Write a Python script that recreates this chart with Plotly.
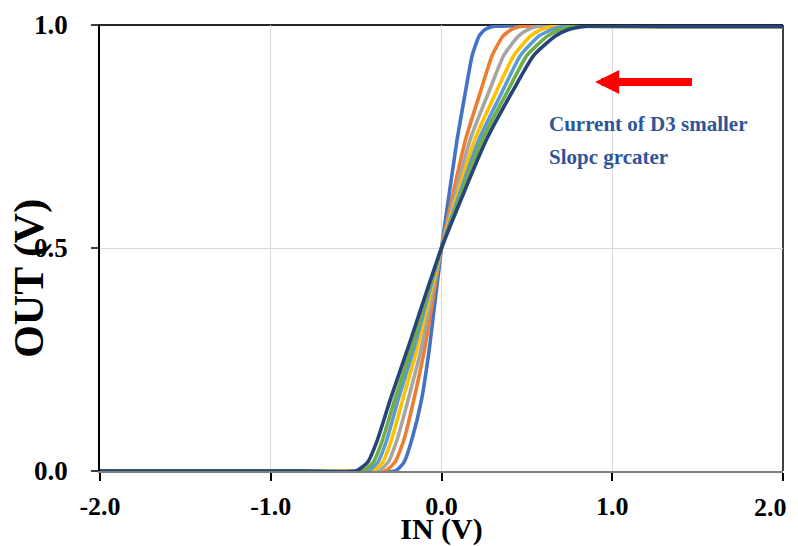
import plotly.graph_objects as go

# Output level (V) at which each curve's input (V) was read
out_levels = [0.0, 0.0, 0.0, 0.0, 0.02, 0.07, 0.16, 0.272, 0.5, 0.742, 0.85, 0.932, 0.975, 0.99, 0.997, 0.997, 0.997]

# Input voltage (V) of each curve at those output levels
in_blue   = [-2.0, -1.0, -0.50, -0.27, -0.219, -0.174, -0.117, -0.072, 0.0, 0.091, 0.140, 0.180, 0.220, 0.255, 0.31, 1.0, 2.0]
in_orange = [-2.0, -1.0, -0.55, -0.33, -0.272, -0.220, -0.162, -0.100, 0.0, 0.140, 0.228, 0.297, 0.360, 0.410, 0.47, 1.0, 2.0]
in_gray   = [-2.0, -1.0, -0.60, -0.37, -0.312, -0.260, -0.195, -0.120, 0.0, 0.167, 0.277, 0.365, 0.450, 0.510, 0.57, 1.1, 2.0]
in_yellow = [-2.0, -1.0, -0.65, -0.40, -0.343, -0.293, -0.227, -0.145, 0.0, 0.194, 0.320, 0.424, 0.520, 0.585, 0.65, 1.2, 2.0]
in_lblue  = [-2.0, -1.0, -0.70, -0.43, -0.372, -0.320, -0.254, -0.164, 0.0, 0.218, 0.355, 0.463, 0.570, 0.645, 0.72, 1.2, 2.0]
in_green  = [-2.0, -1.0, -0.75, -0.46, -0.399, -0.345, -0.274, -0.180, 0.0, 0.238, 0.385, 0.500, 0.620, 0.695, 0.78, 1.3, 2.0]
in_navy   = [-2.0, -1.0, -0.80, -0.50, -0.432, -0.375, -0.300, -0.200, 0.0, 0.262, 0.414, 0.540, 0.665, 0.745, 0.84, 1.3, 2.0]

series = [
    ("1", in_blue, "#4472C4"),
    ("2", in_orange, "#ED7D31"),
    ("3", in_gray, "#A5A5A5"),
    ("4", in_yellow, "#FFC000"),
    ("5", in_lblue, "#5B9BD5"),
    ("6", in_green, "#70AD47"),
    ("7", in_navy, "#264478"),
]

x_ticks = [-2.0, -1.0, 0.0, 1.0, 2.0]
x_tick_labels = ["-2.0", "-1.0", "0.0", "1.0", ""]   # last label drawn separately so it stays inside the page
last_x_label = "2.0"
y_ticks = [0.0, 0.5, 1.0]
y_tick_labels = ["0.0", "0.5", "1.0"]

FONT = "Times New Roman, Liberation Serif, serif"

fig = go.Figure()
for name, xs, color in series:
    fig.add_trace(go.Scatter(
        x=xs, y=out_levels, mode="lines", name=name,
        line=dict(color=color, width=3.6, shape="spline", smoothing=0.5),
        showlegend=False, hoverinfo="skip",
    ))

# the page body adds an 8px offset, so the figure is 8px smaller and margins compensate
fig.update_layout(
    width=790, height=538,
    margin=dict(l=92, r=15, t=17, b=75),
    paper_bgcolor="white", plot_bgcolor="white",
    font=dict(family=FONT, color="black"),
    xaxis=dict(
        range=[-2, 2], tickvals=x_ticks, ticktext=x_tick_labels,
        showgrid=True, gridcolor="#D9D9D9", gridwidth=1,
        zeroline=False, showline=True, linecolor="#7F7F7F", linewidth=1.5,
        ticks="outside", ticklen=8, tickcolor="black", tickwidth=1.5,
        ticklabelstandoff=3,
        tickfont=dict(family=FONT, size=26, color="black", weight="bold"),
        ticklabeloverflow="allow",
        title=dict(text="<b>IN (V)</b>", font=dict(family=FONT, size=30, color="black"), standoff=0),
        automargin=False,
        layer="below traces",
    ),
    yaxis=dict(
        range=[0, 1], tickvals=y_ticks, ticktext=y_tick_labels,
        showgrid=True, gridcolor="#D9D9D9", gridwidth=1,
        zeroline=False, showline=True, linecolor="black", linewidth=1.5,
        ticks="outside", ticklen=7, tickcolor="#404040", tickwidth=1.5,
        ticklabelstandoff=18,
        ticklabeloverflow="allow",
        tickfont=dict(family=FONT, size=27, color="black", weight="bold"),
        automargin=False,
        layer="below traces",
    ),
)

# last x tick label, nudged left so it stays inside the page
fig.add_annotation(x=x_ticks[-1], y=0, xref="x", yref="paper", xanchor="right", yanchor="top",
                   xshift=6, yshift=-20, text="<b>" + last_x_label + "</b>", showarrow=False,
                   font=dict(family=FONT, size=26, color="black"))

# y-axis title (placed lower than centre, as in the original)
fig.add_annotation(x=-0.1025, y=0.433, xref="paper", yref="paper", xanchor="center", yanchor="middle",
                   text="<b>OUT (V)</b>", textangle=-90, showarrow=False,
                   font=dict(family=FONT, size=42, color="black"))

# frame: top and right borders
fig.add_shape(type="line", xref="paper", yref="paper", x0=-0.011, x1=1, y0=1, y1=1,
              line=dict(color="#262626", width=2), layer="below")
fig.add_shape(type="line", xref="paper", yref="paper", x0=1, x1=1, y0=0, y1=1,
              line=dict(color="black", width=1.5), layer="below")

# red arrow
fig.add_annotation(x=0.90, y=0.872, ax=1.476, ay=0.872, xref="x", yref="y", axref="x", ayref="y",
                   text="", showarrow=True, arrowhead=2, arrowsize=0.6, arrowwidth=8, arrowcolor="#FF0000")

fig.add_annotation(x=0.615, y=0.778, xref="x", yref="y", xanchor="left", yanchor="middle",
                   text="<b>Current of D3 smaller</b>", showarrow=False,
                   font=dict(family=FONT, size=21, color="#2F5597"))
fig.add_annotation(x=0.615, y=0.704, xref="x", yref="y", xanchor="left", yanchor="middle",
                   text="<b>Slopc grcater</b>", showarrow=False,
                   font=dict(family=FONT, size=21, color="#2F5597"))

fig.write_html("out.html")
